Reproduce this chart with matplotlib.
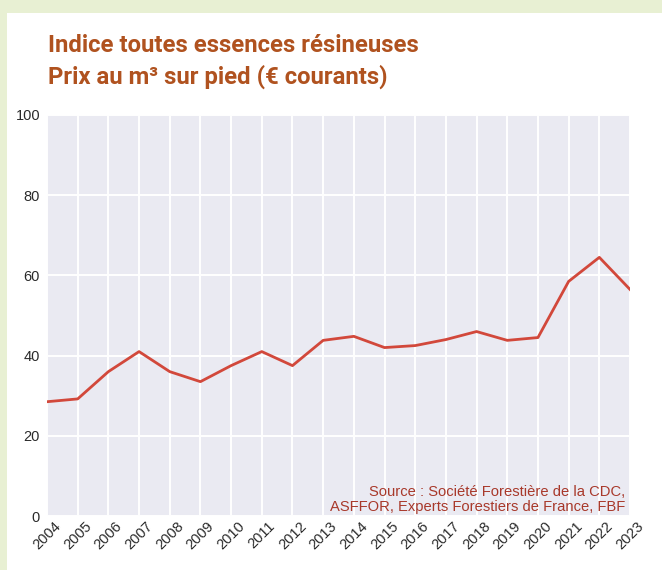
import matplotlib
matplotlib.use("Agg")
import matplotlib.pyplot as plt
from matplotlib.patches import Rectangle

# Indice toutes essences résineuses, prix au m3 sur pied
years = list(range(2004, 2024))
prices = [28.5, 29.2, 36.0, 41.0, 36.0, 33.5, 37.5, 41.0, 37.5, 43.8,
          44.8, 42.0, 42.5, 44.0, 46.0, 43.8, 44.5, 58.5, 64.5, 56.5]
y_ticks = [0, 20, 40, 60, 80, 100]

title_color = '#b0521f'
fig = plt.figure(figsize=(6.62, 5.70), dpi=100, facecolor='#e8f0d3')
fig.patches.append(Rectangle((7 / 662, 0), 1, (570 - 13) / 570,
                             transform=fig.transFigure, facecolor='white',
                             edgecolor='none', zorder=-5))

ax = fig.add_axes([47 / 662, 1 - 516 / 570, 583 / 662, 401 / 570])
ax.set_facecolor('#eaeaf2')
ax.plot(years, prices, color='#d2483b', linewidth=2)
ax.set_xlim(2004, 2023)
ax.set_ylim(0, 100)
ax.set_xticks(years)
ax.set_xticklabels([str(y) for y in years], rotation=45, fontsize=10.5,
                   color='#2a2a2a', family='Liberation Sans')
ax.set_yticks(y_ticks)
ax.set_yticklabels([str(v) for v in y_ticks], fontsize=10.5, color='#2a2a2a',
                   family='Liberation Sans')
ax.tick_params(length=0, pad=5)
ax.tick_params(axis='x', pad=2)
ax.grid(True, color='white', linewidth=1.4)
ax.set_axisbelow(True)
for s in ax.spines.values():
    s.set_visible(False)

ax.text(0.991, 0.005, 'Source : Société Forestière de la CDC,\nASFFOR, Experts Forestiers de France, FBF',
        transform=ax.transAxes, ha='right', va='bottom', fontsize=10.6,
        color='#a8382a', family='Liberation Sans', linespacing=1.1)

fig.text(48 / 662, 1 - 45 / 570, 'Indice toutes essences résineuses',
         fontsize=17.2, fontweight='bold', color=title_color,
         family=['Roboto', 'DejaVu Sans'], va='center')
fig.text(48 / 662, 1 - 77 / 570, 'Prix au m³ sur pied (€ courants)',
         fontsize=17.2, fontweight='bold', color=title_color,
         family=['Roboto', 'DejaVu Sans'], va='center')

fig.savefig('out.png', dpi=100, facecolor=fig.get_facecolor())
